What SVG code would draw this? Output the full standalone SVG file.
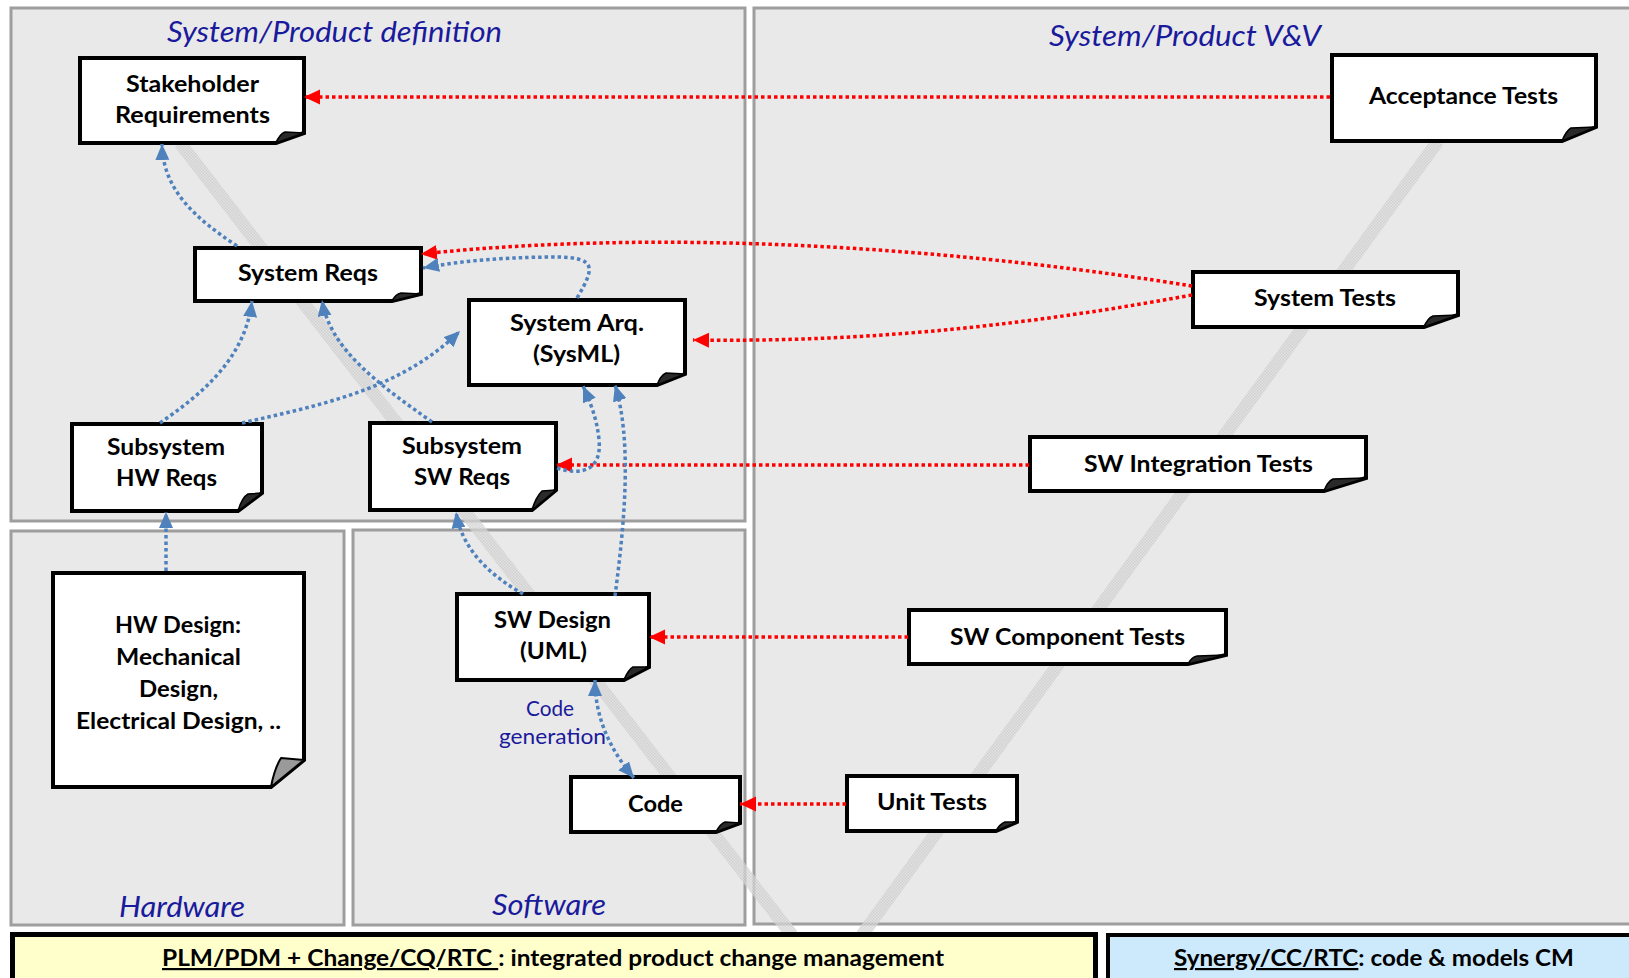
<svg xmlns="http://www.w3.org/2000/svg" width="1629" height="978" viewBox="0 0 1629 978">
<style>
.panel{fill:#e9e9e9;stroke:#9e9e9e;stroke-width:3}
.note{fill:#fff;stroke:#000;stroke-width:4;stroke-linejoin:miter}
.flap{fill:#2a2a2a;stroke:#000;stroke-width:1.5;stroke-linejoin:round}
.lbl{font-family:Lato,"Liberation Sans",sans-serif;font-weight:700;font-size:22px;fill:#000;text-anchor:middle}
.title{font-family:Lato,"Liberation Sans",sans-serif;font-style:italic;font-size:28px;fill:#1a1a9c;text-anchor:middle}
.note-lbl{font-family:Lato,"Liberation Sans",sans-serif;font-size:21px;fill:#1a1a9c;text-anchor:middle}
.bar{font-family:Lato,"Liberation Sans",sans-serif;font-weight:700;font-size:22px;fill:#000}
.u{text-decoration:underline}
.red{fill:none;stroke:#ff0000;stroke-width:3.5;stroke-dasharray:3.5 3}
.blue{fill:none;stroke:#4f81bd;stroke-width:3.5;stroke-dasharray:3.5 3}
.band{fill:none;stroke:url(#hatch);stroke-width:13;opacity:0.75}
</style>
<defs>
<pattern id="hatch" width="3" height="3" patternUnits="userSpaceOnUse">
<rect width="3" height="3" fill="#e0e0e0"/>
<rect width="1.5" height="1.5" fill="#c9c9c9"/>
<rect x="1.5" y="1.5" width="1.5" height="1.5" fill="#c9c9c9"/>
</pattern>
<marker id="ra" markerUnits="userSpaceOnUse" markerWidth="18" markerHeight="16" refX="16" refY="7.5" orient="auto">
<path d="M0,0 L16,7.5 L0,15 Z" fill="#ff0000"/>
</marker>
<marker id="ba" markerUnits="userSpaceOnUse" markerWidth="18" markerHeight="16" refX="16" refY="7" orient="auto-start-reverse">
<path d="M0,0 L16,7 L0,14 Z" fill="#4f81bd"/>
</marker>
</defs>
<rect width="1629" height="978" fill="#fff"/>

<g id="panels">
<rect class="panel" x="11" y="8" width="734" height="513"/>
<rect class="panel" x="754" y="8" width="900" height="916"/>
<rect class="panel" x="11" y="531" width="333" height="394"/>
<rect class="panel" x="353" y="530" width="392" height="395"/>
<text class="title" x="334.5" y="42" textLength="335" lengthAdjust="spacingAndGlyphs">System/Product definition</text>
<text class="title" x="1185" y="46" textLength="272" lengthAdjust="spacingAndGlyphs">System/Product V&amp;V</text>
<text class="title" x="182" y="917" textLength="126" lengthAdjust="spacingAndGlyphs">Hardware</text>
<text class="title" x="549" y="915" textLength="114" lengthAdjust="spacingAndGlyphs">Software</text>
</g>

<g id="vband">
<path class="band" d="M180,143 L792,935"/>
<path class="band" d="M1438,141 L862,935"/>
</g>

<g id="n-stakeholder">
<path class="note" d="M80,58 H304 V133 L276,143 H80 Z"/>
<path class="flap" d="M276,143 C278,138 280,134 285,132 L304,133 Z"/>
<text class="lbl" x="192.5" y="92" textLength="133" lengthAdjust="spacingAndGlyphs">Stakeholder</text>
<text class="lbl" x="192.5" y="123" textLength="155" lengthAdjust="spacingAndGlyphs">Requirements</text>
</g>

<g id="n-sysreqs">
<path class="note" d="M195,248 H421 V294 L392,301 H195 Z"/>
<path class="flap" d="M392,301 C394,297 396,294 401,293 L421,294 Z"/>
<text class="lbl" x="308" y="281" textLength="140" lengthAdjust="spacingAndGlyphs">System Reqs</text>
</g>

<g id="n-sysarq">
<path class="note" d="M469,300 H685 V374 L657,385 H469 Z"/>
<path class="flap" d="M657,385 C659,380 661,375 666,373 L685,374 Z"/>
<text class="lbl" x="577" y="331" textLength="134" lengthAdjust="spacingAndGlyphs">System Arq.</text>
<text class="lbl" x="576.5" y="362" textLength="87" lengthAdjust="spacingAndGlyphs">(SysML)</text>
</g>

<g id="n-subhw">
<path class="note" d="M72,424 H262 V493 L238,511 H72 Z"/>
<path class="flap" d="M238,511 C240,504 243,497 248,494 L262,493 Z"/>
<text class="lbl" x="166" y="455" textLength="118" lengthAdjust="spacingAndGlyphs">Subsystem</text>
<text class="lbl" x="166.5" y="486" textLength="101" lengthAdjust="spacingAndGlyphs">HW Reqs</text>
</g>

<g id="n-subsw">
<path class="note" d="M370,423 H556 V490 L532,510 H370 Z"/>
<path class="flap" d="M532,510 C534,503 537,496 542,491 L556,490 Z"/>
<text class="lbl" x="462" y="454" textLength="120" lengthAdjust="spacingAndGlyphs">Subsystem</text>
<text class="lbl" x="462" y="485" textLength="96" lengthAdjust="spacingAndGlyphs">SW Reqs</text>
</g>

<g id="n-hwdesign">
<path class="note" d="M53,573 H304 V760 L271,787 H53 Z"/>
<path d="M271,787 C273,776 276,766 281,758 L304,760 Z" fill="#9a9a9a" stroke="#000" stroke-width="2" stroke-linejoin="round"/>
<text class="lbl" x="178" y="633" textLength="126" lengthAdjust="spacingAndGlyphs">HW Design:</text>
<text class="lbl" x="178.5" y="665" textLength="125" lengthAdjust="spacingAndGlyphs">Mechanical</text>
<text class="lbl" x="178.5" y="697" textLength="79" lengthAdjust="spacingAndGlyphs">Design,</text>
<text class="lbl" x="178.5" y="729" textLength="205" lengthAdjust="spacingAndGlyphs">Electrical Design, ..</text>
</g>

<g id="n-swdesign">
<path class="note" d="M457,594 H649 V667 L624,680 H457 Z"/>
<path class="flap" d="M624,680 C626,675 628,670 633,667 L649,667 Z"/>
<text class="lbl" x="552.5" y="628" textLength="117" lengthAdjust="spacingAndGlyphs">SW Design</text>
<text class="lbl" x="553.5" y="659" textLength="67" lengthAdjust="spacingAndGlyphs">(UML)</text>
</g>

<g id="n-code">
<path class="note" d="M571,777 H740 V823 L716,832 H571 Z"/>
<path class="flap" d="M716,832 C718,828 720,824 725,822 L740,823 Z"/>
<text class="lbl" x="655.5" y="812" textLength="55" lengthAdjust="spacingAndGlyphs">Code</text>
</g>

<g id="n-acceptance">
<path class="note" d="M1332,55 H1596 V127 L1562,141 H1332 Z"/>
<path class="flap" d="M1562,141 C1564,136 1566,131 1571,128 L1596,127 Z"/>
<text class="lbl" x="1463.5" y="104" textLength="189" lengthAdjust="spacingAndGlyphs">Acceptance Tests</text>
</g>

<g id="n-systests">
<path class="note" d="M1193,272 H1458 V315 L1424,327 H1193 Z"/>
<path class="flap" d="M1424,327 C1426,322 1428,318 1433,316 L1458,315 Z"/>
<text class="lbl" x="1325" y="306" textLength="142" lengthAdjust="spacingAndGlyphs">System Tests</text>
</g>

<g id="n-swint">
<path class="note" d="M1030,437 H1366 V478 L1324,491 H1030 Z"/>
<path class="flap" d="M1324,491 C1326,486 1328,481 1333,479 L1366,478 Z"/>
<text class="lbl" x="1198.5" y="472" textLength="229" lengthAdjust="spacingAndGlyphs">SW Integration Tests</text>
</g>

<g id="n-swcomp">
<path class="note" d="M909,610 H1226 V655 L1188,664 H909 Z"/>
<path class="flap" d="M1188,664 C1190,660 1192,657 1197,656 L1226,655 Z"/>
<text class="lbl" x="1067.5" y="645" textLength="235" lengthAdjust="spacingAndGlyphs">SW Component Tests</text>
</g>

<g id="n-unit">
<path class="note" d="M847,776 H1017 V822 L996,831 H847 Z"/>
<path class="flap" d="M996,831 C998,827 1000,824 1005,822 L1017,822 Z"/>
<text class="lbl" x="932" y="810" textLength="110" lengthAdjust="spacingAndGlyphs">Unit Tests</text>
</g>

<g id="connectors">
<path class="red" d="M1330,97 L304,97" marker-end="url(#ra)"/>
<path class="red" d="M1192,286 C1000,255 700,225 421,254" marker-end="url(#ra)"/>
<path class="red" d="M1192,295 C1000,330 850,342 693,340" marker-end="url(#ra)"/>
<path class="red" d="M1029,465 L556,465" marker-end="url(#ra)"/>
<path class="red" d="M908,637 L649,637" marker-end="url(#ra)"/>
<path class="red" d="M846,804 L740,804" marker-end="url(#ra)"/>
<path class="blue" d="M237,246 C195,218 163,190 162,144" marker-end="url(#ba)"/>
<path class="blue" d="M160,423 C200,395 245,360 252,301" marker-end="url(#ba)"/>
<path class="blue" d="M242,423 C320,405 400,390 460,331" marker-end="url(#ba)"/>
<path class="blue" d="M432,422 C380,385 330,350 322,300" marker-end="url(#ba)"/>
<path class="blue" d="M577,298 C595,268 596,258 560,257 C520,257 470,259 423,268" marker-end="url(#ba)"/>
<path class="blue" d="M615,596 C625,520 632,440 615,385" marker-end="url(#ba)"/>
<path class="blue" d="M557,468 C582,476 602,470 599,440 C597,418 590,402 583,386" marker-end="url(#ba)"/>
<path class="blue" d="M523,594 C490,575 462,550 456,512" marker-end="url(#ba)"/>
<path class="blue" d="M166,571 L166,512" marker-end="url(#ba)"/>
<path class="blue" d="M595,680 C595,720 612,752 634,778" marker-start="url(#ba)" marker-end="url(#ba)"/>
<text class="note-lbl" x="550" y="716" textLength="48" lengthAdjust="spacingAndGlyphs">Code</text>
<text class="note-lbl" x="552.5" y="744" textLength="107" lengthAdjust="spacingAndGlyphs">generation</text>
</g>

<g id="bar-plm">
<rect x="12.5" y="934.5" width="1083" height="60" fill="#ffffcc" stroke="#000" stroke-width="5"/>
<text class="bar" x="162" y="966" textLength="782" lengthAdjust="spacingAndGlyphs"><tspan class="u">PLM/PDM + Change/CQ/RTC </tspan>: integrated product change management</text>
</g>
<g id="bar-synergy">
<rect x="1108" y="935" width="540" height="60" fill="#cdeafd" stroke="#000" stroke-width="4"/>
<text class="bar" x="1174" y="966" textLength="400" lengthAdjust="spacingAndGlyphs"><tspan class="u">Synergy/CC/RTC</tspan>: code &amp; models CM</text>
</g>
</svg>
